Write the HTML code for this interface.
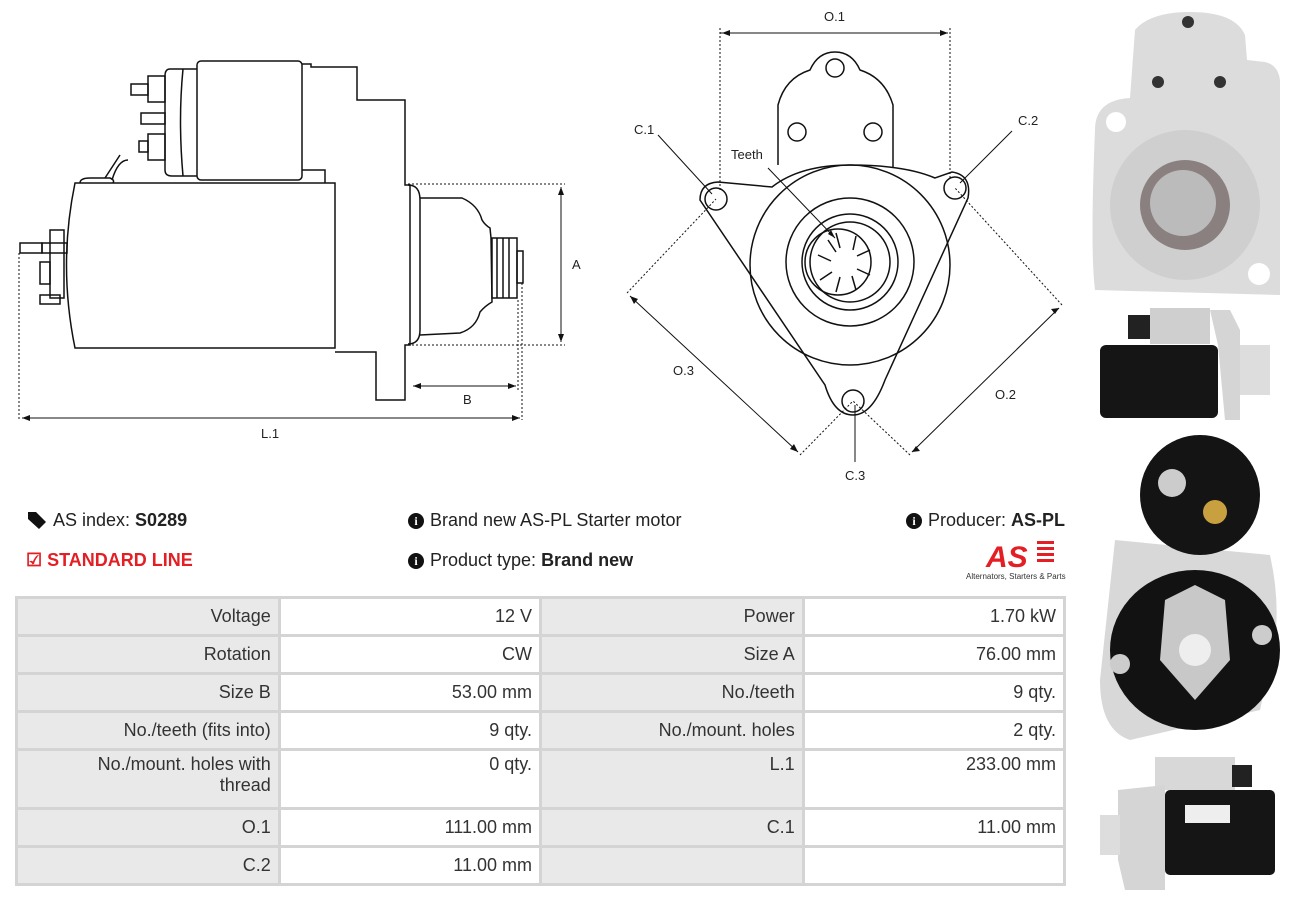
<!DOCTYPE html>
<html><head><meta charset="utf-8"><style>
body{margin:0;width:1294px;height:898px;background:#fff;font-family:"Liberation Sans",sans-serif;position:relative;overflow:hidden;color:#222}
.t{position:absolute;font-size:18px;white-space:nowrap}
.i{display:inline-block;width:16px;height:16px;border-radius:50%;background:#111;color:#fff;font-size:12px;font-weight:bold;text-align:center;line-height:16px;vertical-align:1px;margin-right:6px;font-family:"Liberation Serif",serif}
table{position:absolute;left:15px;top:596px;border-collapse:collapse;width:1051px}
td{border:3px solid #d4d4d4;font-size:18px;text-align:right;padding:0 7px;height:35px;color:#333}
td.l{background:#e9e9e9;width:248px}
td.v{background:#fff;width:247px}
</style></head><body>
<svg width="1294" height="898" style="position:absolute;left:0;top:0" fill="none" stroke="#111" stroke-width="1.5" font-family="Liberation Sans" font-size="13">
<!-- side view -->
<path d="M75 183 L335 183 L335 348 L75 348 Q58 265 75 183Z"/>
<path d="M80 183 Q80 178 90 178 L110 178 Q115 180 113 183"/>
<path d="M105 178 L120 155 M112 180 Q118 160 128 160"/>
<rect x="197" y="61" width="105" height="119" rx="4"/>
<path d="M197 69 L170 69 Q165 69 165 76 L165 170 Q165 176 172 176 L197 176"/>
<path d="M183 69 Q178 120 183 176"/>
<rect x="148" y="76" width="17" height="26"/><rect x="131" y="84" width="17" height="11"/>
<rect x="148" y="134" width="17" height="26"/><rect x="139" y="141" width="9" height="11"/>
<rect x="141" y="113" width="24" height="11"/>
<path d="M302 64 L311 64 L311 67 L357 67 L357 100 L405 100 L405 185 L410 185 L410 345 L405 345 L405 400 L376 400 L376 352 L335 352"/>
<path d="M302 170 L325 170 L325 183"/>
<path d="M408 185 Q420 185 420 200 L420 330 Q420 344 408 344"/>
<path d="M420 198 L462 198 Q478 205 482 220 Q485 225 490 228 L491 238 L492 302 Q485 306 480 312 Q476 328 460 333 L420 335"/>
<rect x="492" y="238" width="25" height="60"/><path d="M497 238V298M503 238V298M509 238V298"/>
<rect x="517" y="251" width="6" height="32"/>
<rect x="42" y="243" width="25" height="10"/><rect x="20" y="243" width="22" height="10"/>
<rect x="40" y="262" width="10" height="22"/><rect x="50" y="230" width="14" height="68"/>
<rect x="40" y="295" width="20" height="9"/>
<g stroke-width="1" stroke-dasharray="2,2"><path d="M408 184H565M408 345H565M19 253V420M522 283V420M518 300V390"/></g>
<path d="M561 187V342M413 386H516M22 418H520" stroke-width="1"/>
<g fill="#111" stroke="none"><path d="M561 187l-3 8h6z M561 342l-3-8h6z M413 386l8-3v6z M516 386l-8-3v6z M22 418l8-3v6z M520 418l-8-3v6z"/></g>
<g fill="#222" stroke="none" font-size="13"><text x="572" y="269">A</text><text x="463" y="404">B</text><text x="261" y="438">L.1</text></g>
<!-- front view -->
<path d="M778 165 L778 105 Q785 78 810 70 Q818 52 835 52 Q852 52 860 70 Q885 78 893 105 L893 168"/>
<circle cx="835" cy="68" r="9"/><circle cx="797" cy="132" r="9"/><circle cx="873" cy="132" r="9"/>
<path d="M700 200 Q700 183 718 182 L772 187 Q800 165 850 165 Q905 165 935 178 L952 172 Q972 175 968 198 L885 380 Q872 415 853 415 Q834 415 825 385 Z"/>
<circle cx="716" cy="199" r="11"/><circle cx="955" cy="188" r="11"/><circle cx="853" cy="401" r="11"/>
<circle cx="850" cy="265" r="100"/><circle cx="850" cy="262" r="64"/><circle cx="850" cy="262" r="48"/><circle cx="850" cy="262" r="40"/><circle cx="838" cy="262" r="33"/>
<path d="M836 233 l4 15 M856 236 l-3 14 M870 250 l-13 6 M870 275 l-13 -6 M856 290 l-4 -14 M836 292 l4 -15 M820 280 l12 -8 M818 255 l13 6 M828 240 l8 12"/>
<g stroke-width="1"><path d="M720 28V190M950 28V180" stroke-dasharray="2,2"/><path d="M720 33H948"/>
<path d="M627 293 L716 199 M800 455 L853 401 M1062 305 L955 188 M910 455 L853 401" stroke-dasharray="2,2"/>
<path d="M630 296L798 452 M1059 308L912 452 M658 135 L712 194 M1012 131 L960 183 M768 168 L835 238 M855 405 L855 462"/></g>
<g fill="#111" stroke="none"><path d="M722 33l8-3v6z M948 33l-8-3v6z M630 296l4 8 4-5z M798 452l-4-8-4 5z M1059 308l-8 1 4 5z M912 452l8-1-4-5z M835 238l-7-4 3-4z"/></g>
<g fill="#222" stroke="none"><text x="824" y="21">O.1</text><text x="634" y="134">C.1</text><text x="1018" y="125">C.2</text><text x="731" y="159">Teeth</text><text x="673" y="375">O.3</text><text x="995" y="399">O.2</text><text x="845" y="480">C.3</text></g>
<!-- photos -->
<g stroke="none">
<path d="M1135 30 Q1150 12 1190 12 Q1235 12 1245 35 L1247 60 L1265 62 Q1278 65 1280 80 L1280 295 L1095 290 Q1090 250 1095 130 Q1095 100 1130 98 Z" fill="#dcdcdc"/>
<circle cx="1185" cy="205" r="75" fill="#cfcfcf"/><circle cx="1185" cy="205" r="45" fill="#8a8080"/><circle cx="1183" cy="203" r="33" fill="#bbb"/>
<circle cx="1116" cy="122" r="10" fill="#fff"/><circle cx="1259" cy="274" r="11" fill="#fff"/>
<circle cx="1188" cy="22" r="6" fill="#333"/><circle cx="1158" cy="82" r="6" fill="#333"/><circle cx="1220" cy="82" r="6" fill="#333"/>
<rect x="1150" y="308" width="60" height="36" fill="#cfcfcf"/><rect x="1128" y="315" width="22" height="24" fill="#222"/>
<rect x="1100" y="345" width="118" height="73" rx="6" fill="#151515"/>
<path d="M1210 310 L1230 310 L1240 330 L1240 420 L1225 420 L1218 345Z" fill="#d5d5d5"/><rect x="1240" y="345" width="30" height="50" fill="#ddd"/>
<path d="M1115 540 L1270 555 Q1280 600 1275 640 L1260 710 L1130 740 Q1100 730 1100 680 Z" fill="#d8d8d8"/>
<circle cx="1200" cy="495" r="60" fill="#141414"/>
<ellipse cx="1195" cy="650" rx="85" ry="80" fill="#121212"/>
<path d="M1165 600 L1195 585 L1225 600 L1230 660 L1195 700 L1160 660Z" fill="#c8c8c8"/><circle cx="1195" cy="650" r="16" fill="#eee"/>
<circle cx="1172" cy="483" r="14" fill="#ccc"/><circle cx="1215" cy="512" r="12" fill="#c9a040"/><circle cx="1120" cy="664" r="10" fill="#ccc"/><circle cx="1262" cy="635" r="10" fill="#ccc"/>
<rect x="1155" y="757" width="80" height="33" fill="#d8d8d8"/><rect x="1232" y="765" width="20" height="22" fill="#222"/>
<path d="M1118 790 L1165 785 L1165 890 L1125 890 L1118 860Z" fill="#d5d5d5"/><rect x="1100" y="815" width="20" height="40" fill="#ddd"/>
<rect x="1165" y="790" width="110" height="85" rx="5" fill="#151515"/><rect x="1185" y="805" width="45" height="18" fill="#eee"/>
</g>
<!-- logo -->
<text x="986" y="567" fill="#e31e24" stroke="none" font-size="30" font-weight="bold" font-style="italic">AS</text>
<g fill="#e31e24" stroke="none"><rect x="1037" y="541" width="17" height="3"/><rect x="1037" y="547" width="17" height="3"/><rect x="1037" y="553" width="17" height="3"/><rect x="1037" y="559" width="17" height="3"/></g>
<text x="966" y="579" fill="#333" stroke="none" font-size="8">Alternators, Starters &amp; Parts</text>
<!-- tag icon -->
<path d="M28 512 L36 512 L46 522 L39 529 L28 519Z" fill="#111" stroke="none"/>
</svg>
<div class="t" style="left:53px;top:510px">AS index: <b>S0289</b></div>
<div class="t" style="left:26px;top:550px;color:#e31e24;font-weight:bold">&#9745; STANDARD LINE</div>
<div class="t" style="left:408px;top:510px"><span class="i">i</span>Brand new AS-PL Starter motor</div>
<div class="t" style="left:408px;top:550px"><span class="i">i</span>Product type: <b>Brand new</b></div>
<div class="t" style="left:906px;top:510px"><span class="i">i</span>Producer: <b>AS-PL</b></div>
<table>
<tr><td class="l">Voltage</td><td class="v">12 V</td><td class="l">Power</td><td class="v">1.70 kW</td></tr>
<tr><td class="l">Rotation</td><td class="v">CW</td><td class="l">Size A</td><td class="v">76.00 mm</td></tr>
<tr><td class="l">Size B</td><td class="v">53.00 mm</td><td class="l">No./teeth</td><td class="v">9 qty.</td></tr>
<tr><td class="l">No./teeth (fits into)</td><td class="v">9 qty.</td><td class="l">No./mount. holes</td><td class="v">2 qty.</td></tr>
<tr><td class="l" style="height:53px;vertical-align:top;padding-top:3px">No./mount. holes with<br>thread</td><td class="v" style="vertical-align:top;padding-top:3px">0 qty.</td><td class="l" style="vertical-align:top;padding-top:3px">L.1</td><td class="v" style="vertical-align:top;padding-top:3px">233.00 mm</td></tr>
<tr><td class="l">O.1</td><td class="v">111.00 mm</td><td class="l">C.1</td><td class="v">11.00 mm</td></tr>
<tr><td class="l">C.2</td><td class="v">11.00 mm</td><td class="l"></td><td class="v"></td></tr>
</table>
</body></html>
